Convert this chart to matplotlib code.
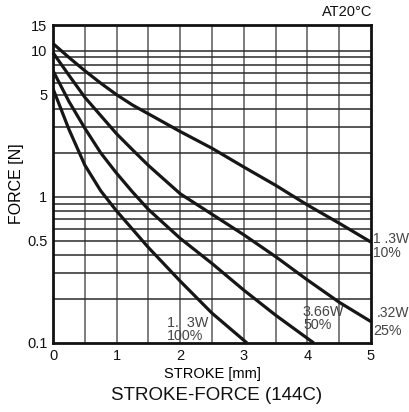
import matplotlib
matplotlib.use("Agg")
import matplotlib.pyplot as plt
import numpy as np

plt.rcParams['font.family'] = ['Liberation Sans Narrow', 'Liberation Sans', 'DejaVu Sans']

# stroke [mm] and force [N], one list per duty
stroke_10 = [0, 0.25, 0.5, 0.75, 1.0, 1.25, 1.5, 2.0, 2.5, 3.0, 3.5, 4.0, 4.5, 5.0]
force_10 = [11.2, 9.0, 7.3, 6.0, 5.0, 4.25, 3.7, 2.8, 2.15, 1.6, 1.2, 0.88, 0.66, 0.49]

stroke_25 = [0, 0.25, 0.5, 0.75, 1.0, 1.25, 1.5, 2.0, 2.5, 3.0, 3.5, 4.0, 4.5, 5.0]
force_25 = [9.7, 6.8, 4.8, 3.6, 2.7, 2.1, 1.64, 1.05, 0.76, 0.55, 0.39, 0.27, 0.19, 0.14]

stroke_50 = [0, 0.25, 0.5, 0.75, 1.0, 1.25, 1.5, 2.0, 2.5, 3.0, 3.5, 4.1]
force_50 = [7.3, 4.5, 2.95, 2.0, 1.45, 1.08, 0.82, 0.52, 0.35, 0.23, 0.155, 0.1]

stroke_100 = [0, 0.25, 0.5, 0.75, 1.0, 1.25, 1.5, 2.0, 2.5, 3.05]
force_100 = [5.5, 2.9, 1.65, 1.1, 0.8, 0.6, 0.45, 0.265, 0.16, 0.1]

x_ticks = [0, 1, 2, 3, 4, 5]
y_ticks = [0.1, 0.5, 1, 5, 10, 15]
y_tick_labels = ['0.1', '0.5', '1', '5', '10', '15']

fig = plt.figure(figsize=(4.1, 4.12), dpi=100)
ax = fig.add_axes([0.1293, 0.1675, 0.7756, 0.7718])

ax.set_yscale('log')
ax.set_xlim(0, 5)
ax.set_ylim(0.1, 15)

# grid
for xv in np.arange(0.5, 5.0, 0.5):
    ax.axvline(xv, color='#5a5a5a', lw=1.1, zorder=1)
for dec in [0.1, 1]:
    for m in range(1, 10):
        yv = dec * m
        if yv > 0.1:
            ax.axhline(yv, color='#2a2a2a', lw=1.1, zorder=1)
ax.axhline(10, color='#2a2a2a', lw=1.1, zorder=1)

lc = '#161616'
kw = dict(color=lc, lw=2.3, zorder=3, solid_joinstyle='round', solid_capstyle='butt')
ax.plot(stroke_10, force_10, clip_on=False, **kw)
ax.plot(stroke_25, force_25, clip_on=False, **kw)
ax.plot(stroke_50, force_50, **kw)
ax.plot(stroke_100, force_100, **kw)

for s in ax.spines.values():
    s.set_linewidth(2.0)
    s.set_color('#111111')
    s.set_zorder(4)

ax.set_xticks(x_ticks)
ax.set_xticklabels([str(v) for v in x_ticks])
ax.set_yticks(y_ticks)
ax.set_yticklabels(y_tick_labels)
ax.yaxis.set_minor_locator(matplotlib.ticker.NullLocator())
ax.tick_params(length=0, labelsize=10.5, colors='#111111', pad=4)

ax.set_xlabel('STROKE [mm]', fontsize=10.5, labelpad=3)
ax.set_ylabel('FORCE [N]', fontsize=11.5, labelpad=2)

# duty labels
tc = '#444444'
fs = 10.3
ax.text(1.79, 0.1, '1.  3W\n100%', fontsize=fs, color=tc, va='bottom',
        linespacing=0.95, zorder=5, clip_on=False)
ax.text(3.93, 0.118, '3.66W\n50%', fontsize=fs, color=tc, va='bottom',
        linespacing=0.95, zorder=5)
ax.text(5.09, 0.143, '.32W', fontsize=10, color=tc, va='bottom', clip_on=False)
ax.text(5.03, 0.109, '25%', fontsize=fs, color=tc, va='bottom', clip_on=False)
ax.text(5.025, 0.372, '1 .3W\n10%', fontsize=10, color=tc, va='bottom',
        linespacing=0.98, clip_on=False)

fig.text(0.907, 0.955, 'AT20°C', fontsize=10.5, ha='right', va='bottom', color='#111111')
fig.text(0.527, 0.02, 'STROKE-FORCE (144C)', fontsize=13.5, ha='center', va='bottom',
         color='#111111')

fig.savefig('out.png', dpi=100)
